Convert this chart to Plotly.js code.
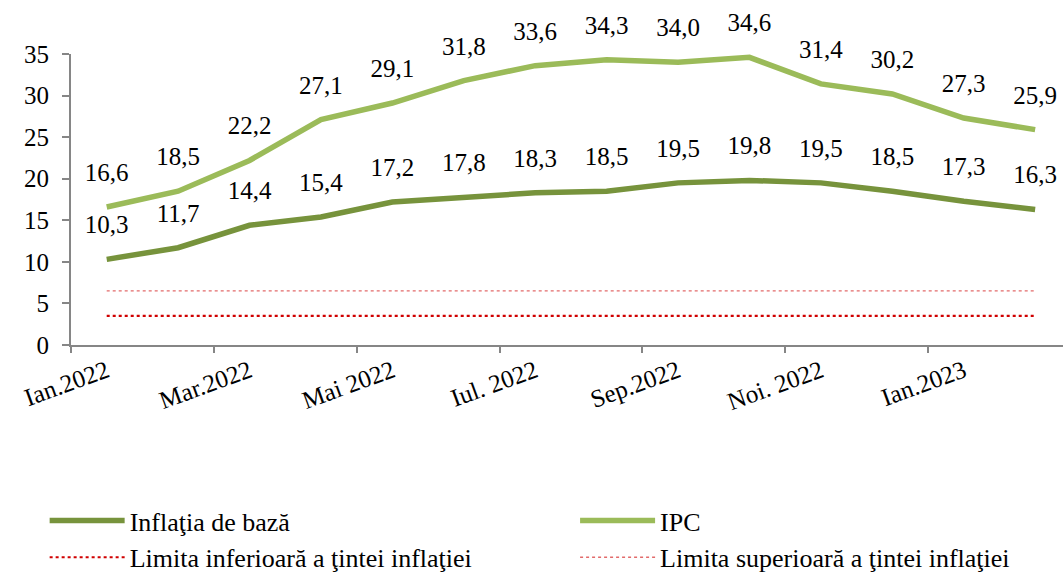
<!DOCTYPE html>
<html>
<head>
<meta charset="utf-8">
<script src="https://cdn.plot.ly/plotly-3.0.1.min.js"></script>
<style>html,body{margin:0;padding:0;background:#fff}#chart{width:1063px;height:572px}</style>
</head>
<body>
<div id="chart"></div>
<script>
const months = ["Ian.2022","Feb.2022","Mar.2022","Apr.2022","Mai 2022","Iun.2022","Iul. 2022","Aug.2022","Sep.2022","Oct.2022","Noi. 2022","Dec.2022","Ian.2023","Feb.2023"];
const tickLabels = ["Ian.2022","Mar.2022","Mai 2022","Iul. 2022","Sep.2022","Noi. 2022","Ian.2023"];
const inflatiaDeBaza = [10.3, 11.7, 14.4, 15.4, 17.2, 17.8, 18.3, 18.5, 19.5, 19.8, 19.5, 18.5, 17.3, 16.3];
const ipc = [16.6, 18.5, 22.2, 27.1, 29.1, 31.8, 33.6, 34.3, 34.0, 34.6, 31.4, 30.2, 27.3, 25.9];
const limitaInferioara = [3.5, 3.5, 3.5, 3.5, 3.5, 3.5, 3.5, 3.5, 3.5, 3.5, 3.5, 3.5, 3.5, 3.5];
const limitaSuperioara = [6.5, 6.5, 6.5, 6.5, 6.5, 6.5, 6.5, 6.5, 6.5, 6.5, 6.5, 6.5, 6.5, 6.5];

const idx = months.map((m, i) => i);
const tickIdx = tickLabels.map(l => months.indexOf(l));
const boundaryIdx = tickIdx.map(i => i - 0.5);

const FONT = "Liberation Serif";
const FS = 25;
const LFS = 26;
const traces = [
  {x: idx, y: inflatiaDeBaza, name: "Inflaţia de bază", mode: "lines+markers+text", legend: "legend",
   line: {color: "#77933C", width: 5.5}, marker: {size: 30, color: "rgba(0,0,0,0)"},
   cliponaxis: false,
   texttemplate: "%{y:.1f}", textposition: "top center", textfont: {family: FONT, size: FS, color: "#000"}},
  {x: idx, y: ipc, name: "IPC", mode: "lines+markers+text", legend: "legend2",
   line: {color: "#9BBB59", width: 5.5}, marker: {size: 30, color: "rgba(0,0,0,0)"},
   cliponaxis: false,
   texttemplate: "%{y:.1f}", textposition: "top center", textfont: {family: FONT, size: FS, color: "#000"}},
  {x: idx, y: limitaInferioara, name: "Limita inferioară a ţintei inflaţiei", mode: "lines", legend: "legend",
   line: {color: "#D00000", width: 2.2, dash: "dot"}},
  {x: idx, y: limitaSuperioara, name: "Limita superioară a ţintei inflaţiei", mode: "lines", legend: "legend2",
   line: {color: "#E26B6B", width: 1.3, dash: "dot"}},
  {x: [0], y: [0], xaxis: "x2", mode: "none", showlegend: false, hoverinfo: "skip"}
];

const legendCommon = {orientation: "v", xref: "container", yref: "container", xanchor: "left",
  y: 0.131, yanchor: "top", itemwidth: 75, tracegroupgap: 0,
  font: {family: FONT, size: LFS}, bgcolor: "rgba(0,0,0,0)"};

const layout = {
  width: 1063, height: 572,
  margin: {l: 71, r: 0, t: 54, b: 227, autoexpand: false},
  paper_bgcolor: "#fff", plot_bgcolor: "#fff",
  separators: ", ",
  font: {family: FONT, size: FS, color: "#000"},
  showlegend: true,
  xaxis: {range: [-0.5, 13.39], tickmode: "array", tickvals: tickIdx, ticktext: tickLabels,
    tickangle: -20, ticks: "", showgrid: false, zeroline: false, showline: true, automargin: false,
    linecolor: "#868686", linewidth: 2, tickfont: {family: FONT, size: FS}},
  xaxis2: {overlaying: "x", range: [-0.5, 13.39], tickmode: "array", tickvals: boundaryIdx,
    ticktext: boundaryIdx.map(() => ""), ticks: "outside", ticklen: 7, tickwidth: 2,
    tickcolor: "#868686", showgrid: false, zeroline: false, showline: false, side: "bottom", anchor: "y"},
  yaxis: {range: [0, 35], dtick: 5, ticks: "outside", ticklen: 7, tickwidth: 2, tickcolor: "#868686",
    showgrid: false, zeroline: false, showline: true, linecolor: "#868686", linewidth: 2, automargin: false,
    ticklabelstandoff: 8, tickfont: {family: FONT, size: FS}},
  legend: Object.assign({}, legendCommon, {x: 0.042}),
  legend2: Object.assign({}, legendCommon, {x: 0.541})
};

Plotly.newPlot("chart", traces, layout, {displayModeBar: false, staticPlot: true});
</script>
</body>
</html>
